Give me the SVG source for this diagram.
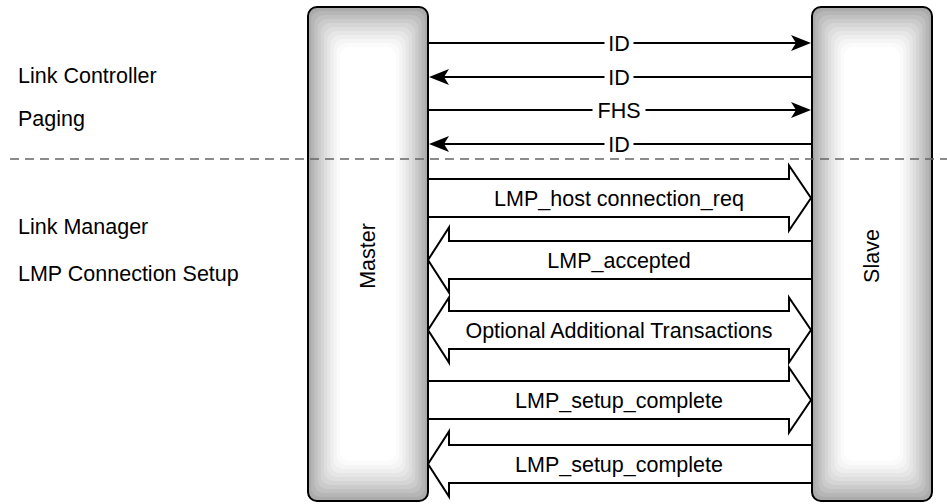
<svg xmlns="http://www.w3.org/2000/svg" xmlns:xlink="http://www.w3.org/1999/xlink" width="947" height="504" viewBox="0 0 947 504">
  <style>
    text { font-family: "Liberation Sans", Arial, sans-serif; font-size: 21.5px; fill: #000; }
    .mid { text-anchor: middle; }
    .frame { fill: none; stroke: #000; stroke-width: 2; }
    .msg { fill: none; stroke: #000; stroke-width: 2; }
    .tag { fill: #fff; }
    .block { fill: #fff; stroke: #000; stroke-width: 2; stroke-linejoin: miter; }
    .divider { fill: none; stroke: #666; stroke-width: 1.5; stroke-dasharray: 9 6; }
  </style>
  <defs>
    <!-- stepped shading for a lifeline bar, 120 x 494 -->
    <g id="bar-shade">
      <rect x="0" y="0" width="120" height="494" rx="9" fill="#ababab"/>
      <rect x="3.2" y="4" width="113.6" height="486" rx="9" fill="#b6b6b6"/>
      <rect x="6.4" y="8" width="107.2" height="478" rx="9" fill="#c1c1c1"/>
      <rect x="9.6" y="12" width="100.8" height="470" rx="9" fill="#cbcbcb"/>
      <rect x="12.8" y="16" width="94.4" height="462" rx="9" fill="#d5d5d5"/>
      <rect x="16" y="20" width="88" height="454" rx="9" fill="#dedede"/>
      <rect x="19.2" y="24" width="81.6" height="446" rx="9" fill="#e6e6e6"/>
      <rect x="22.4" y="28" width="75.2" height="438" rx="9" fill="#eeeeee"/>
      <rect x="25.6" y="32" width="68.8" height="430" rx="9" fill="#f5f5f5"/>
      <rect x="28.8" y="36" width="62.4" height="422" rx="9" fill="#fbfbfb"/>
      <rect x="32" y="40" width="56" height="414" rx="9" fill="#ffffff"/>
    </g>
    <marker id="head" markerUnits="userSpaceOnUse" viewBox="0 0 20 16" refX="9" refY="8" markerWidth="20" markerHeight="16" orient="auto">
      <path d="M0,0 L20,8 L0,16 L5,8 Z" fill="#000"/>
    </marker>
  </defs>

  <!-- layer captions -->
  <g id="captions">
    <text x="18" y="83">Link Controller</text>
    <text x="18" y="126">Paging</text>
    <text x="18" y="234">Link Manager</text>
    <text x="18" y="281">LMP Connection Setup</text>
  </g>

  <!-- lifelines -->
  <g id="master">
    <use xlink:href="#bar-shade" x="308" y="7"/>
    <rect class="frame" x="308" y="7" width="120" height="494" rx="9"/>
    <text class="mid" transform="translate(367,256) rotate(-90)" dy="7.5">Master</text>
  </g>
  <g id="slave">
    <use xlink:href="#bar-shade" x="812" y="7"/>
    <rect class="frame" x="812" y="7" width="120" height="494" rx="9"/>
    <text class="mid" transform="translate(871,256) rotate(-90)" dy="7.5">Slave</text>
  </g>

  <!-- boundary between controller and manager -->
  <line class="divider" x1="10" y1="159" x2="947" y2="159"/>

  <g id="connectors">
    <!-- baseband paging exchange -->
    <g id="msg-id-1">
      <line class="msg" x1="428" y1="43" x2="800" y2="43" marker-end="url(#head)"/>
      <rect class="tag" x="604.5" y="33" width="29" height="20"/>
      <text class="mid" x="619" y="50.5">ID</text>
    </g>
    <g id="msg-id-2">
      <line class="msg" x1="812" y1="77" x2="440" y2="77" marker-end="url(#head)"/>
      <rect class="tag" x="604.5" y="67" width="29" height="20"/>
      <text class="mid" x="619" y="84.5">ID</text>
    </g>
    <g id="msg-fhs">
      <line class="msg" x1="428" y1="110" x2="800" y2="110" marker-end="url(#head)"/>
      <rect class="tag" x="592.5" y="100" width="53" height="20"/>
      <text class="mid" x="619" y="117.5">FHS</text>
    </g>
    <g id="msg-id-3">
      <line class="msg" x1="812" y1="144" x2="440" y2="144" marker-end="url(#head)"/>
      <rect class="tag" x="604.5" y="134" width="29" height="20"/>
      <text class="mid" x="619" y="151.5">ID</text>
    </g>

    <!-- LMP transactions -->
    <g id="lmp-host-conn-req">
      <polygon class="block" points="428,179 789,179 789,165.5 811,198 789,230.5 789,217 428,217"/>
      <text class="mid" x="619" y="205.5">LMP_host connection_req</text>
    </g>
    <g id="lmp-accepted">
      <polygon class="block" points="812,241 449,241 449,227.5 428,260 449,292.5 449,279 812,279"/>
      <text class="mid" x="619" y="267.5">LMP_accepted</text>
    </g>
    <g id="lmp-optional">
      <polygon class="block" points="428,330 449,297.5 449,311 789,311 789,297.5 811,330 789,362.5 789,349 449,349 449,362.5"/>
      <text class="mid" x="619" y="337.5">Optional Additional Transactions</text>
    </g>
    <g id="lmp-setup-complete-1">
      <polygon class="block" points="428,381 789,381 789,367.5 811,400 789,432.5 789,419 428,419"/>
      <text class="mid" x="619" y="407.5">LMP_setup_complete</text>
    </g>
    <g id="lmp-setup-complete-2">
      <polygon class="block" points="812,445 449,445 449,431.5 428,464 449,496.5 449,483 812,483"/>
      <text class="mid" x="619" y="471.5">LMP_setup_complete</text>
    </g>
  </g>
</svg>
